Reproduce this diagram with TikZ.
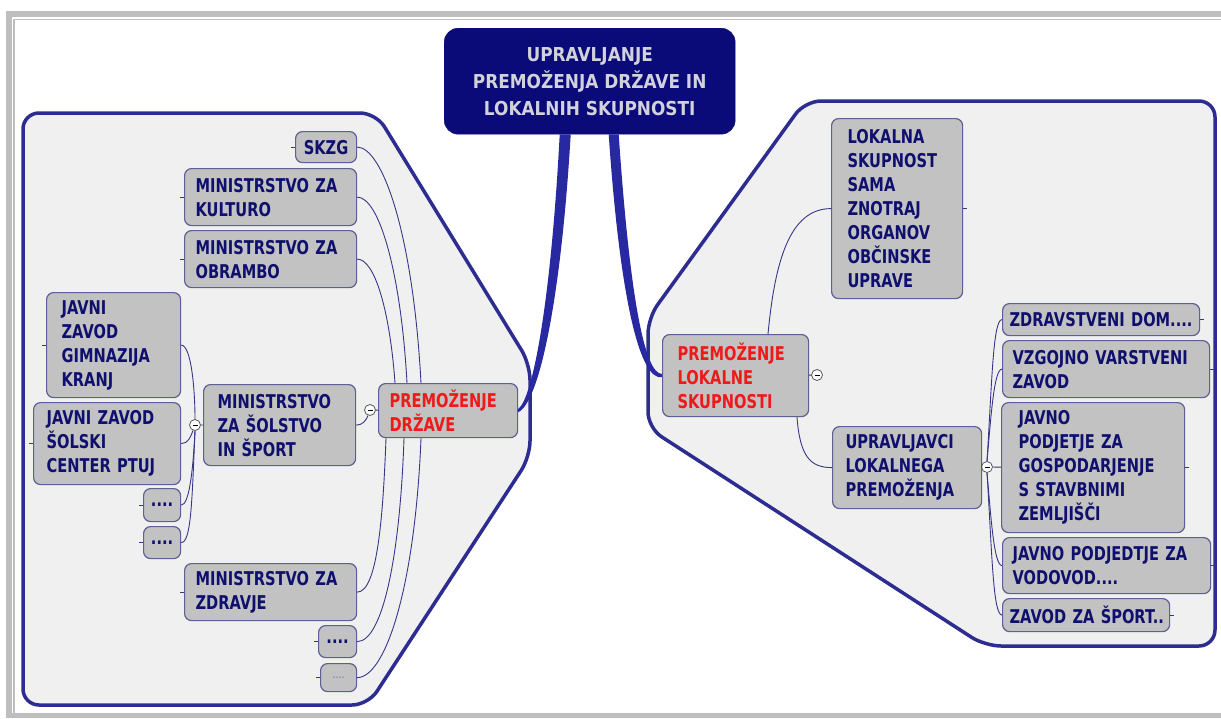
\documentclass[tikz,border=0pt]{standalone}
\usepackage{fontspec}
\usetikzlibrary{calc}
\newfontfamily\nodefont[FakeStretch=0.77]{DejaVu Sans}
\newfontfamily\titlefont[FakeStretch=0.88]{DejaVu Sans}
\definecolor{framegray}{RGB}{190,190,190}
\definecolor{contborder}{RGB}{45,45,145}
\definecolor{contfill}{RGB}{240,240,240}
\definecolor{boxfill}{RGB}{194,194,194}
\definecolor{boxborder}{RGB}{95,95,150}
\definecolor{navytext}{RGB}{15,15,110}
\definecolor{redtext}{RGB}{238,25,25}
\definecolor{topfill}{RGB}{10,10,120}
\definecolor{toptext}{RGB}{210,210,220}
\definecolor{connthin}{RGB}{55,55,135}
\definecolor{connthick}{RGB}{40,40,160}
\definecolor{dimdots}{RGB}{110,110,175}
\begin{document}
\begin{tikzpicture}[x=1pt,y=-1pt,
  container/.style={draw=contborder, fill=contfill, line width=3.5pt, rounded corners=16pt},
  box/.style={draw=boxborder, fill=boxfill, line width=1.2pt, rounded corners=7pt,
    anchor=north west, align=left, inner ysep=0pt, text=navytext,
    font=\nodefont\bfseries\fontsize{19}{24}\selectfont},
  redbox/.style={box, text=redtext},
  dotbox/.style={box, align=center, inner xsep=0pt},
  topbox/.style={draw=topfill, fill=topfill, rounded corners=14pt, anchor=north west,
    align=center, text=toptext, inner sep=0pt,
    font=\titlefont\bfseries\fontsize{19.2}{27}\selectfont},
  conn/.style={draw=connthin, line width=0.9pt},
  stub/.style={draw=connthin, line width=0.9pt},
  collapse/.style={circle, draw=gray!70!black, fill=white, line width=0.8pt,
    minimum size=11pt, inner sep=0pt,
    path picture={\draw[black, line width=1pt]
      ([xshift=3pt]path picture bounding box.west) -- ([xshift=-3pt]path picture bounding box.east);}},
  thickconn/.style={fill=connthick}
]
\useasboundingbox (0,0) rectangle (1221,718);
\fill[white] (0,0) rectangle (1221,718);
% frame
\fill[framegray] (6,11) rectangle (1221,17);
\fill[framegray] (6,11) rectangle (12,718);
\fill[framegray] (6,713) rectangle (1221,718);
\draw[framegray, line width=1.5pt] (14,713) |- (1221,19.5);

% containers
\draw[container] (23,400) -- (23,705) -- (368,705) -- (530,457) -- (530,364) -- (376,113) -- (23,113) -- cycle;
\draw[container] (1215,400) -- (1215,646) -- (985,646) -- (648,428) -- (648,318) -- (805,101) -- (1215,101) -- cycle;

% central node
\node[topbox, minimum width=291pt, minimum height=106pt] (top) at (444,28)
  {UPRAVLJANJE\\PREMOŽENJA DRŽAVE IN\\LOKALNIH SKUPNOSTI};

% left nodes
\node[dotbox, text width=61pt, minimum height=31pt] (skzg) at (295,131) {SKZG};
\node[box, inner xsep=11pt, text width=150pt, minimum height=57pt] (kult) at (184,168) {MINISTRSTVO~ZA\\KULTURO};
\node[box, inner xsep=11pt, text width=150pt, minimum height=57pt] (obr) at (184,230) {MINISTRSTVO~ZA\\OBRAMBO};
\node[box, inner xsep=15pt, text width=104pt, minimum height=105pt] (gimn) at (46,292) {JAVNI\\ZAVOD\\GIMNAZIJA\\KRANJ};
\node[box, inner xsep=13pt, text width=121pt, minimum height=82pt] (ptuj) at (33,402) {JAVNI~ZAVOD\\ŠOLSKI\\CENTER~PTUJ};
\node[box, inner xsep=14pt, text width=124pt, minimum height=81pt] (solst) at (203,384) {MINISTRSTVO\\ZA~ŠOLSTVO\\IN~ŠPORT};
\node[redbox, inner xsep=11pt, text width=117pt, minimum height=54pt] (drz) at (378,383) {PREMOŽENJE\\DRŽAVE};
\node[dotbox, text width=37pt, minimum height=33pt] (d1) at (143,488) {....};
\node[dotbox, text width=37pt, minimum height=32pt] (d2) at (143,526) {....};
\node[box, inner xsep=11pt, text width=150pt, minimum height=57pt] (zdr) at (184,563) {MINISTRSTVO~ZA\\ZDRAVJE};
\node[dotbox, text width=38pt, minimum height=32pt] (d3) at (318,625) {....};
\node[dotbox, text width=36pt, minimum height=28pt, text=dimdots,
  font=\nodefont\fontsize{12}{14}\selectfont] (d4) at (320,663) {....};

% right nodes
\node[box, inner xsep=16pt, text width=99pt, minimum height=180pt] (lok) at (831,118)
  {LOKALNA\\SKUPNOST\\SAMA\\ZNOTRAJ\\ORGANOV\\OBČINSKE\\UPRAVE};
\node[redbox, inner xsep=15pt, text width=116pt, minimum height=82pt] (plok) at (662,334) {PREMOŽENJE\\LOKALNE\\SKUPNOSTI};
\node[box, inner xsep=13pt, text width=123pt, minimum height=82pt] (upr) at (832,426) {UPRAVLJAVCI\\LOKALNEGA\\PREMOŽENJA};
\node[box, inner xsep=7pt, text width=183pt, minimum height=32pt] (zd) at (1002,303) {ZDRAVSTVENI~DOM....};
\node[box, inner xsep=10pt, text width=187pt, minimum height=57pt] (vzg) at (1002,340) {VZGOJNO~VARSTVENI\\ZAVOD};
\node[box, inner xsep=17pt, text width=149pt, minimum height=130pt] (jp) at (1001,402)
  {JAVNO\\PODJETJE~ZA\\GOSPODARJENJE\\S~STAVBNIMI\\ZEMLJIŠČI};
\node[box, inner xsep=10pt, text width=188pt, minimum height=56pt] (vod) at (1002,537) {JAVNO~PODJEDTJE~ZA\\VODOVOD....};
\node[box, inner xsep=7pt, text width=153pt, minimum height=33pt] (sport) at (1002,598) {ZAVOD~ZA~ŠPORT..};

% collapse markers
\node[collapse] (c1) at (370,410) {};
\node[collapse] (c2) at (195,425) {};
\node[collapse] (c3) at (817,375) {};
\node[collapse] (c4) at (987,467) {};

% thick connectors (tapered)
\fill[thickconn] ($(top.south)+(-30,0)$) .. controls (551,300) and (533,398) .. ($(drz.east)+(0,-1.6)$)
  -- ($(drz.east)+(0,1.6)$) .. controls (539,403) and (561,300) .. ($(top.south)+(-19,0)$) -- cycle;
\fill[thickconn] ($(top.south)+(19,0)$) .. controls (620,300) and (640,381) .. ($(plok.west)+(0,1.6)$)
  -- ($(plok.west)+(0,-1.6)$) .. controls (645,374) and (630,300) .. ($(top.south)+(29,0)$) -- cycle;

% thin connectors, left
\draw[conn] (skzg.east) .. controls +(25,0) and +(-8,-150) .. ($(drz.north west)+(43,0)$);
\draw[conn] (kult.east) .. controls +(22,0) and +(-6,-110) .. ($(drz.north west)+(29,0)$);
\draw[conn] (obr.east) .. controls +(18,0) and +(-5,-70) .. ($(drz.north west)+(17,0)$);
\draw[conn] (zdr.east) .. controls +(20,0) and +(-3,80) .. ($(drz.south west)+(8,0)$);
\draw[conn] (d3.east) .. controls +(25,0) and +(-4,120) .. ($(drz.south west)+(26,0)$);
\draw[conn] (d4.east) .. controls +(28,0) and +(-6,150) .. ($(drz.south west)+(43,0)$);
\draw[conn] (solst.east) to[out=0,in=-110] (c1);
\draw[conn] (c1) -- (drz);
\draw[conn] (c2) -- (solst);
\draw[conn] (gimn.east) .. controls +(10,0) and +(0,-30) .. (c2.north);
\draw[conn] (ptuj.east) to[out=0,in=-110] (c2);
\draw[conn] (d1.east) .. controls +(8,0) and +(-2,40) .. (c2.south);
\draw[conn] (d2.east) .. controls +(10,0) and +(-3,70) .. (c2.south);

% thin connectors, right
\draw[conn] ($(plok.north west)+(106,0)$) .. controls +(7,-74) and +(-41,0) .. (lok.west);
\draw[conn] ($(plok.south west)+(135,0)$) .. controls +(3,39) and +(-22,0) .. (upr.west);
\draw[conn] (plok) -- (c3);
\draw[conn] (upr) -- (c4);
\draw[conn] (c4.north) .. controls +(5,-80) and +(-9,0) .. (zd.west);
\draw[conn] (c4.north) .. controls +(4,-45) and +(-8,0) .. (vzg.west);
\draw[conn] (c4) -- (jp);
\draw[conn] (c4.south) .. controls +(4,45) and +(-8,0) .. (vod.west);
\draw[conn] (c4.south) .. controls +(5,80) and +(-9,0) .. (sport.west);

% stubs
\foreach \n in {skzg,kult,obr,gimn,ptuj,d1,d2,zdr,d3,d4}
  \draw[stub] (\n.west) -- ++(-4,0);
\foreach \n in {lok,zd,vzg,jp,vod,sport}
  \draw[stub] (\n.east) -- ++(4,0);
\end{tikzpicture}
\end{document}
